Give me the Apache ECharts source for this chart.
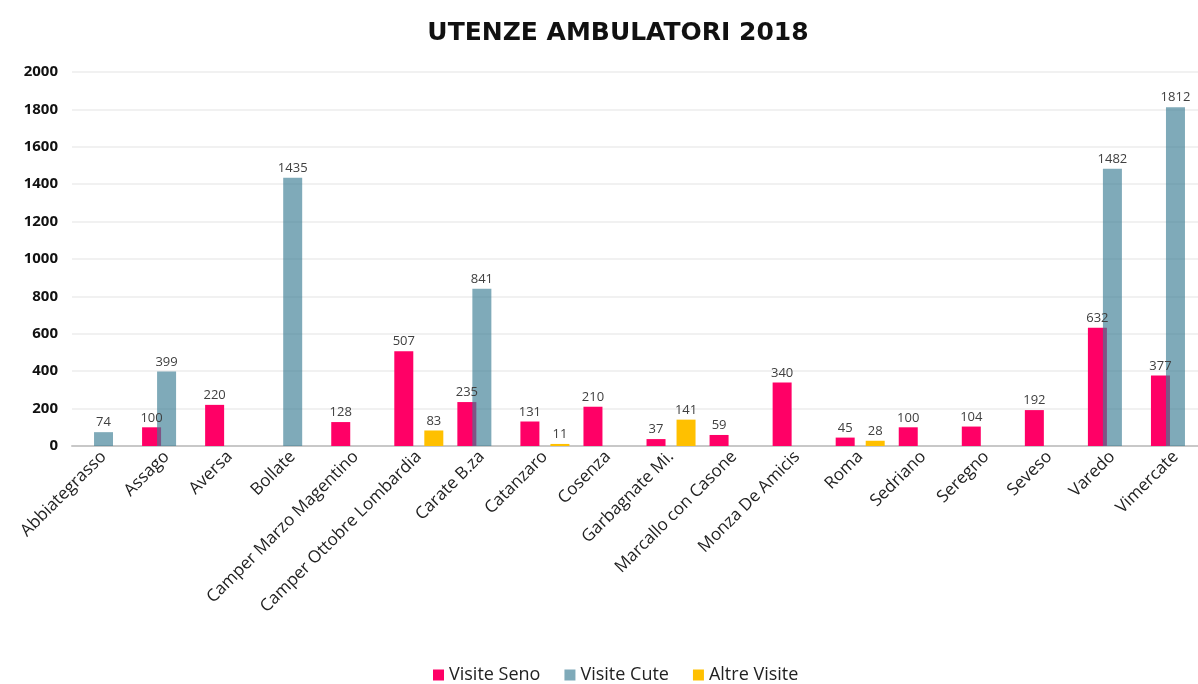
<!DOCTYPE html>
<html>
<head>
<meta charset="utf-8">
<script src="https://cdn.jsdelivr.net/npm/echarts@6/dist/echarts.min.js"></script>
<style>
  html, body { margin: 0; padding: 0; background: #fff; }
  #chart { width: 1198px; height: 684px; }
</style>
</head>
<body>
<div id="chart"></div>
<script>
const categories = ['Abbiategrasso', 'Assago', 'Aversa', 'Bollate', 'Camper Marzo Magentino',
  'Camper Ottobre Lombardia', 'Carate B.za', 'Catanzaro', 'Cosenza', 'Garbagnate Mi.',
  'Marcallo con Casone', 'Monza De Amicis', 'Roma', 'Sedriano', 'Seregno', 'Seveso',
  'Varedo', 'Vimercate'];

// '-' = nessun valore
const visiteSeno = ['-', 100, 220, '-', 128, 507, 235, 131, 210, 37, 59, 340, 45, 100, 104, 192, 632, 377];
const visiteCute = [74, 399, '-', 1435, '-', '-', 841, '-', '-', '-', '-', '-', '-', '-', '-', '-', 1482, 1812];
const altreVisite = ['-', '-', '-', '-', '-', 83, '-', 11, '-', 141, '-', '-', 28, '-', '-', '-', '-', '-'];

const yTicks = { min: 0, max: 2000, interval: 200 };

const chart = echarts.init(document.getElementById('chart'));

const labelStyle = {
    show: true,
    position: 'top',
    distance: 3,
    color: '#404040',
    fontSize: 13,
    fontFamily: 'Open Sans'
};

function makeSeries(name, data, color) {
    return {
        name: name,
        type: 'bar',
        data: data,
        barWidth: 19,
        barGap: '-21%',
        itemStyle: { color: color },
        label: labelStyle
    };
}

chart.setOption({
    animation: false,
    textStyle: { fontFamily: 'Open Sans' },
    title: {
        text: 'UTENZE AMBULATORI 2018',
        left: 613,
        textAlign: 'center',
        top: 16,
        textStyle: {
            fontFamily: 'DejaVu Sans',
            fontWeight: 'bold',
            fontSize: 25,
            color: '#111'
        }
    },
    legend: {
        bottom: -5,
        left: 428,
        itemWidth: 11,
        itemHeight: 11,
        itemGap: 24,
        icon: 'rect',
        textStyle: { fontSize: 18, color: '#222', fontFamily: 'Open Sans' },
        data: ['Visite Seno', 'Visite Cute', 'Altre Visite']
    },
    grid: {
        left: 72,
        width: 1135,
        top: 72,
        height: 374,
        outerBoundsMode: 'none',
        containLabel: false
    },
    xAxis: {
        type: 'category',
        data: categories,
        axisTick: { show: false },
        axisLine: { lineStyle: { color: '#c8c8c8', width: 2 } },
        axisLabel: {
            interval: 0,
            rotate: 45,
            fontSize: 17,
            color: '#222',
            margin: 8
        }
    },
    yAxis: {
        type: 'value',
        min: yTicks.min,
        max: yTicks.max,
        interval: yTicks.interval,
        axisLine: { show: false },
        axisTick: { show: false },
        splitLine: { lineStyle: { color: '#ececec', width: 1.5 } },
        axisLabel: {
            fontWeight: 'bold',
            fontSize: 15,
            color: '#111',
            margin: 14,
            formatter: v => String(v)
        }
    },
    series: [
        makeSeries('Visite Seno', visiteSeno, '#ff0066'),
        makeSeries('Visite Cute', visiteCute, 'rgba(60,126,149,0.66)'),
        makeSeries('Altre Visite', altreVisite, '#ffc000')
    ]
});
</script>
</body>
</html>
